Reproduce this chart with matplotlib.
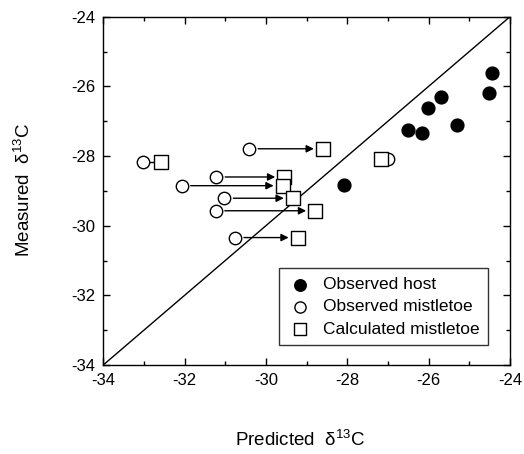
import numpy as np
import matplotlib.pyplot as plt
from matplotlib.ticker import MultipleLocator

plt.rcParams['font.family'] = ['Liberation Sans', 'DejaVu Sans']
plt.rcParams['axes.unicode_minus'] = False

# observed host
host_x = [-24.43, -24.52, -25.69, -26.01, -26.51, -26.17, -25.29, -28.09]
host_y = [-25.62, -26.19, -26.29, -26.61, -27.25, -27.34, -27.12, -28.83]

# observed mistletoe (predicted x) and calculated mistletoe
mist_y = [-27.79, -28.16, -28.60, -28.85, -29.21, -29.57, -30.34, -28.08]
obs_x = [-30.41, -33.01, -31.22, -32.07, -31.02, -31.23, -30.76, -27.00]
calc_x = [-28.60, -32.57, -29.55, -29.59, -29.34, -28.79, -29.22, -27.17]

fig = plt.figure(figsize=(5.24, 4.54), dpi=100)
ax = fig.add_axes([0.197, 0.196, 0.776, 0.767])

ax.plot([-34, -24], [-34, -24], color='black', lw=1.0, zorder=1)

# arrows from observed to calculated
for xo, xc, y in zip(obs_x, calc_x, mist_y):
    d = xc - xo
    if d > 1.0:
        ax.annotate('', xy=(xc - 0.22, y), xytext=(xo + 0.22, y),
                    arrowprops=dict(arrowstyle='-|>', color='black', lw=1.0,
                                    mutation_scale=11, shrinkA=0, shrinkB=0),
                    zorder=2)
    elif d > 0.3:
        ax.plot([xo, xc], [y, y], color='black', lw=1.0, zorder=2)

ax.scatter(host_x, host_y, s=85, facecolor='black', edgecolor='black',
           label='Observed host', zorder=3)
ax.scatter(obs_x, mist_y, s=80, facecolor='white', edgecolor='black',
           linewidth=1.0, label='Observed mistletoe', zorder=3)
ax.scatter(calc_x, mist_y, s=95, marker='s', facecolor='white',
           edgecolor='black', linewidth=1.0, label='Calculated mistletoe', zorder=4)

ax.set_xlim(-34, -24)
ax.set_ylim(-34, -24)
ax.xaxis.set_major_locator(MultipleLocator(2))
ax.yaxis.set_major_locator(MultipleLocator(2))
ax.xaxis.set_minor_locator(MultipleLocator(1))
ax.yaxis.set_minor_locator(MultipleLocator(1))
ax.tick_params(which='both', direction='in', top=True, right=True,
               labelsize=12, width=1.0)
ax.tick_params(which='major', length=5, pad=6)
ax.tick_params(which='minor', length=3)
for s in ax.spines.values():
    s.set_linewidth(1.0)

fig.text(300 / 524, 1 - 440 / 454, r'Predicted  $\mathregular{\delta^{13}C}$',
         fontsize=13.5, ha='center', va='center')
fig.text(24 / 524, 1 - 190 / 454, r'Measured  $\mathregular{\delta^{13}C}$',
         fontsize=13.5, ha='center', va='center', rotation=90)

leg = ax.legend(loc='lower right', bbox_to_anchor=(0.968, 0.032), fontsize=12.5,
                frameon=True, fancybox=False, edgecolor='black',
                handletextpad=0.6, borderpad=0.5, labelspacing=0.4,
                handlelength=1.4, markerscale=0.9)
leg.get_frame().set_linewidth(1.0)

plt.savefig('out.png', dpi=100)
